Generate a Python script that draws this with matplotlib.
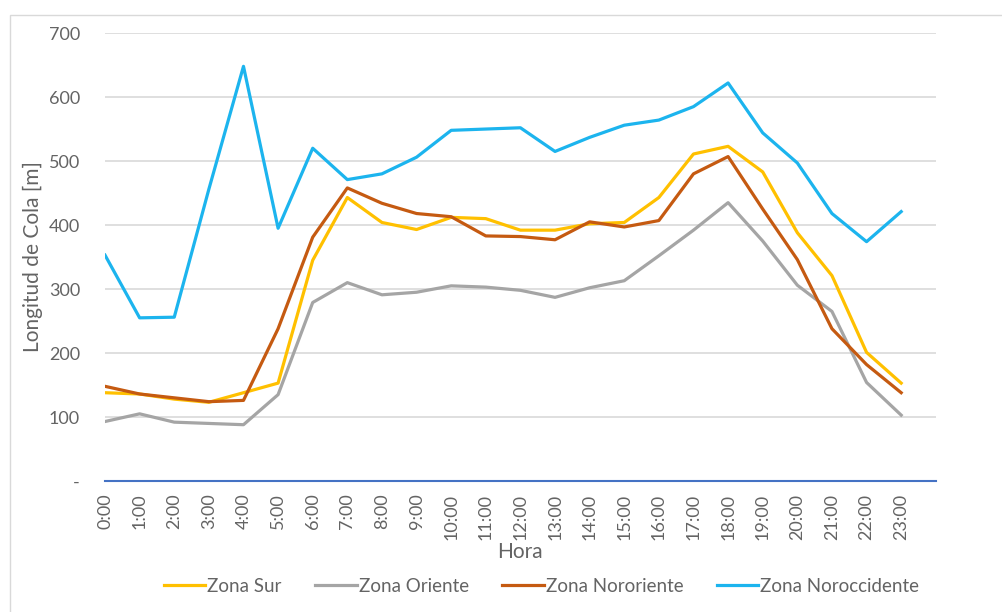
import numpy as np
import matplotlib.pyplot as plt
from matplotlib.patches import Rectangle

horas = [f"{h}:00" for h in range(24)]

zona_sur = [138, 136, 128, 123, 138, 153, 345, 443, 404, 393, 412, 410,
            392, 392, 402, 404, 443, 511, 523, 483, 388, 321, 201, 153]
zona_oriente = [93, 105, 92, 90, 88, 135, 279, 310, 291, 295, 305, 303,
                298, 287, 302, 313, 352, 392, 435, 375, 306, 265, 154, 103]
zona_nororiente = [148, 136, 130, 124, 126, 238, 381, 458, 434, 418, 413, 383,
                   382, 377, 405, 397, 407, 480, 507, 425, 346, 238, 182, 138]
zona_noroccidente = [353, 255, 256, 456, 648, 395, 520, 471, 480, 506, 548, 550,
                     552, 515, 537, 556, 564, 585, 622, 544, 497, 418, 374, 421]

series = [
    ("Zona Sur", zona_sur, "#FFC000"),
    ("Zona Oriente", zona_oriente, "#A5A5A5"),
    ("Zona Nororiente", zona_nororiente, "#C55A11"),
    ("Zona Noroccidente", zona_noroccidente, "#1CB4EE"),
]

plt.rcParams['font.family'] = ['Lato', 'DejaVu Sans']
text_color = "#646464"

fig = plt.figure(figsize=(10.03, 6.12), dpi=100)
ax = fig.add_axes([0.1047, 0.214, 0.8283, 0.732])

# outer chart border
fig.patches.append(Rectangle((0.010, -0.05), 1.1, 1.026, transform=fig.transFigure,
                             fill=False, edgecolor="#D9D9D9", linewidth=1.0))

x = np.arange(len(horas))
for name, vals, col in series:
    ax.plot(x, vals, color=col, linewidth=2.3, label=name)

ax.set_xlim(0, 24)
ax.set_ylim(0, 700)
ax.set_yticks(range(0, 701, 100))
ax.set_yticklabels(["-"] + [str(v) for v in range(100, 701, 100)])
ax.set_xticks(x)
ax.set_xticklabels(horas, rotation=90)
ax.tick_params(axis="both", length=0, colors=text_color, labelsize=13)
ax.tick_params(axis="y", pad=18)
ax.tick_params(axis="x", pad=9)

ax.grid(axis="y", color="#D9D9D9", linewidth=1.2)
ax.set_axisbelow(True)
for s in ["top", "right", "left"]:
    ax.spines[s].set_visible(False)
ax.spines["bottom"].set_color("#4472C4")
ax.spines["bottom"].set_linewidth(1.5)

ax.set_ylabel("Longitud de Cola [m]", color=text_color, fontsize=15, labelpad=4)
ax.set_xlabel("Hora", color=text_color, fontsize=15, labelpad=2)

leg = fig.legend(loc="center", bbox_to_anchor=(0.54, 0.042), ncol=4, frameon=False,
                 fontsize=13.5, handlelength=2.2, columnspacing=1.8, handletextpad=0.1)
for t in leg.get_texts():
    t.set_color(text_color)

fig.savefig("out.png", dpi=100)
